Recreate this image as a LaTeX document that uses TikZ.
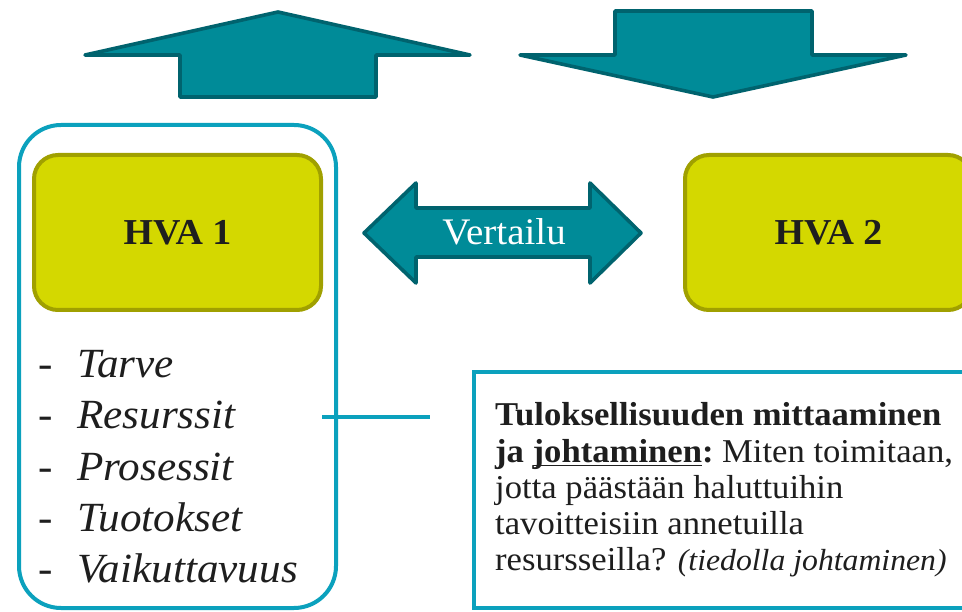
\documentclass[tikz,border=0pt]{standalone}
\usepackage{fontspec}
\setmainfont{Liberation Serif}[FakeStretch=1.04]
\definecolor{arrowfill}{HTML}{008B98}
\definecolor{arrowline}{HTML}{00636E}
\definecolor{framecol}{HTML}{0BA1BD}
\definecolor{hvafill}{HTML}{D4D800}
\definecolor{hvaline}{HTML}{A0A000}
\definecolor{textcol}{HTML}{1E1E1E}
\newcommand\ulin[1]{\setbox0=\hbox{#1}\rlap{\rule[-4pt]{\wd0}{1.1pt}}\box0}
\begin{document}
\begin{tikzpicture}[x=1pt,y=-1pt,
  bigarrow/.style={fill=arrowfill, draw=arrowline, line width=3.6pt, line join=round},
  hvabox/.style={draw=hvaline, fill=hvafill, line width=4pt, rounded corners=24pt,
     minimum width=287pt, minimum height=155pt, inner sep=0pt, text=textcol,
     font=\fontsize{36.5}{40}\selectfont\bfseries},
  framebox/.style={draw=framecol, line width=4pt, rounded corners=42pt,
     minimum width=317pt, minimum height=483pt, inner sep=0pt},
  tboxstyle/.style={draw=framecol, fill=white, line width=4pt,
     minimum width=506pt, minimum height=236pt, inner sep=0pt},
  dashtxt/.style={anchor=base west, inner sep=0pt, text=textcol,
     font=\fontsize{41.5}{50}\selectfont},
  itemtxt/.style={anchor=base west, inner sep=0pt, text=textcol,
     font=\fontsize{41.5}{50}\selectfont\itshape},
  boxtxt/.style={anchor=base west, inner sep=0pt, text=textcol,
     font=\fontsize{33.3}{36}\selectfont},
  link/.style={draw=framecol, line width=4pt}
]
\useasboundingbox (0,0) rectangle (962,612);
\clip (0,0) rectangle (962,612);
\fill[white] (0,0) rectangle (962,612);

% top arrows
\draw[bigarrow] (278,12) -- (85,55) -- (180,55) -- (180,97) -- (376,97) -- (376,55) -- (470,55) -- cycle;
\draw[bigarrow] (615,11) -- (812,11) -- (812,55) -- (906,55) -- (713,97) -- (520,55) -- (615,55) -- cycle;

% left frame
\node[framebox] (frame) at (177.5,366.5) {};

% HVA boxes
\node[hvabox] (hva1) at (177.5,232.5) {HVA 1};
\node[hvabox] (hva2) at (828.5,232.5) {HVA 2};

% double arrow
\draw[bigarrow] (364,233) -- (416,183) -- (416,208) -- (590,208) -- (590,183) -- (641,233)
   -- (590,283) -- (590,257) -- (416,257) -- (416,283) -- cycle;
\node[anchor=base, inner sep=0pt, text=white, font=\fontsize{37.5}{40}\selectfont] (vert) at (504,245) {Vertailu};

% list
\foreach \w/\yy/\n in {Tarve/378/1, Resurssit/429/2, Prosessit/480/3, Tuotokset/531/4, Vaikuttavuus/582/5}{
  \node[dashtxt] (d\n) at (38,\yy) {-};
  \node[itemtxt] (i\n) at (77,\yy) {\w};
}

% text box
\node[tboxstyle] (tbox) at (727,490) {};
\coordinate (c1) at (322,417);
\coordinate (c2) at (430,417);
\draw[link] (c1) -- (c2);

\node[boxtxt] (t1) at (495,426) {\bfseries Tuloksellisuuden mittaaminen};
\node[boxtxt] (t2) at (495,462) {\textbf{ja \ulin{johtaminen}:}\kern-3pt{} Miten toimitaan,};
\node[boxtxt] (t3) at (495,498) {jotta päästään haluttuihin};
\node[boxtxt] (t4) at (495,534) {tavoitteisiin annetuilla};
\node[boxtxt] (t5) at (495,570) {resursseilla? {\itshape\fontsize{30.5}{36}\selectfont (tiedolla johtaminen)}};
\end{tikzpicture}
\end{document}
